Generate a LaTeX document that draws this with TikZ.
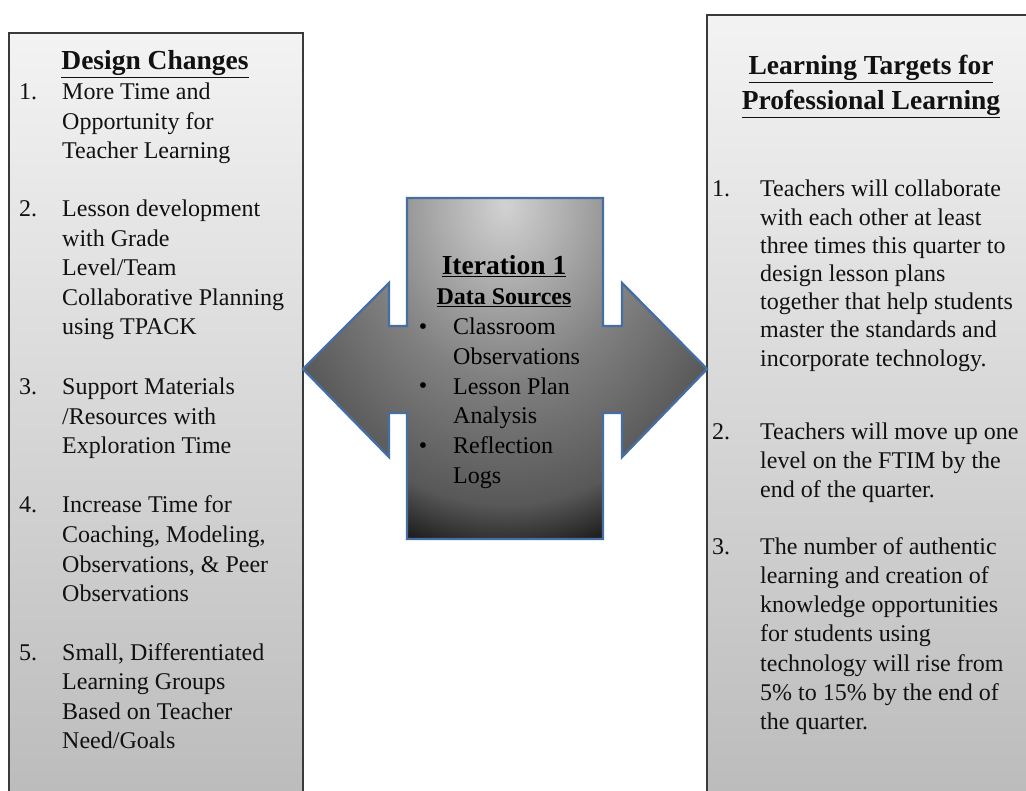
\documentclass[tikz,border=0pt]{standalone}
\usepackage{fontspec}
\setmainfont{Liberation Serif}
\definecolor{boxtop}{HTML}{F3F3F3}
\definecolor{boxbot}{HTML}{BCBCBC}
\definecolor{boxline}{HTML}{3A3A3A}
\definecolor{arrowline}{HTML}{456EA3}
\definecolor{arrowlight}{HTML}{D2D2D2}
\definecolor{arrowmid}{HTML}{808080}
\definecolor{arrowlow}{HTML}{585858}
\definecolor{arrowdark}{HTML}{202020}
\definecolor{textcol}{HTML}{111111}
\pgfdeclareradialshading{arrowshade}{\pgfpoint{0pt}{0pt}}{color(0pt)=(arrowlight); color(175pt)=(arrowmid); color(300pt)=(arrowlow); color(350pt)=(arrowdark); color(420pt)=(arrowdark)}
\begin{document}
\begin{tikzpicture}[x=1pt,y=-1pt,
  body/.style={font=\fontsize{24}{29}\selectfont, inner sep=0pt, anchor=base west, text=textcol},
  num/.style={body},
  cbody/.style={body, text=black},
  head/.style={font=\fontsize{27.5}{33}\selectfont\bfseries, inner sep=0pt, anchor=base, text=textcol},
  subhead/.style={font=\fontsize{24}{29}\selectfont\bfseries, inner sep=0pt, anchor=base, text=black},
  boxedge/.style={draw=boxline, line width=1.2pt},
  boxfill/.style={top color=boxtop, bottom color=boxbot},
  arrowshape/.style={draw=arrowline, line width=2.4pt, line join=miter,
    path picture={\node[inner sep=0pt, xscale=0.8, transform shape] (shadeimg) at ([yshift=-7pt]path picture bounding box.north) {\pgfuseshading{arrowshade}};}}]
\useasboundingbox (0,0) rectangle (1026,791);

% left box
\fill[boxfill] (9,33) rectangle (303,791);
\draw[boxedge] (9,791) -- (9,33) -- (303,33) -- (303,791);
% right box
\fill[boxfill] (707,15) rectangle (1026,791);
\draw[boxedge] (707,791) -- (707,15) -- (1026,15);

% central double arrow
\path[arrowshape] (407,198) -- (603,198) -- (603,326) -- (622,326) -- (622,283) -- (707,369)
  -- (622,457) -- (622,413) -- (603,413) -- (603,539) -- (407,539) -- (407,413)
  -- (389,413) -- (389,457) -- (303,369) -- (389,283) -- (389,326) -- (407,326) -- cycle;

% left box text
\node[head] (dchead) at (155,70) {\underline{Design Changes}};
\node[num] (dn1) at (19,100) {1.};
\foreach \t [count=\i from 0] in {More Time and, Opportunity for, Teacher Learning}
  \node[body] (dca-\i) at (62,{100+29.5*\i}) {\t};
\node[num] (dn2) at (19,217) {2.};
\foreach \t [count=\i from 0] in {Lesson development, with Grade, Level/Team, Collaborative Planning, using TPACK}
  \node[body] (dcb-\i) at (62,{217+29.5*\i}) {\t};
\node[num] (dn3) at (19,395) {3.};
\foreach \t [count=\i from 0] in {Support Materials, /Resources with, Exploration Time}
  \node[body] (dcc-\i) at (62,{395+29.5*\i}) {\t};
\node[num] (dn4) at (19,513) {4.};
\foreach \t [count=\i from 0] in {Increase Time for, {Coaching, Modeling,}, {Observations, \& Peer}, Observations}
  \node[body] (dcd-\i) at (62,{513+29.5*\i}) {\t};
\node[num] (dn5) at (19,660) {5.};
\foreach \t [count=\i from 0] in {{Small, Differentiated}, Learning Groups, Based on Teacher, Need/Goals}
  \node[body] (dce-\i) at (62,{660+29.5*\i}) {\t};

% centre text
\node[head, text=black] (ithead) at (504,275) {\underline{Iteration 1}};
\node[subhead] (dshead) at (504,305) {\underline{Data Sources}};
\node[cbody, anchor=base] (b1) at (423,335) {\textbullet};
\node[cbody, anchor=base] (b2) at (423,394) {\textbullet};
\node[cbody, anchor=base] (b3) at (423,454) {\textbullet};
\foreach \t [count=\i from 0] in {Classroom, Observations, Lesson Plan, Analysis, Reflection, Logs}
  \node[cbody] (ds-\i) at (453,{335+29.6*\i}) {\t};

% right box text
\node[head] (lthead1) at (871,75) {\underline{Learning Targets for}};
\node[head] (lthead2) at (871,110) {\underline{Professional Learning}};
\node[num] (rn1) at (712,197) {1.};
\foreach \t [count=\i from 0] in {Teachers will collaborate, with each other at least, three times this quarter to, design lesson plans, together that help students, master the standards and, incorporate technology.}
  \node[body] (lta-\i) at (760,{197+28.2*\i}) {\t};
\node[num] (rn2) at (712,440) {2.};
\foreach \t [count=\i from 0] in {Teachers will move up one, level on the FTIM by the, end of the quarter.}
  \node[body] (ltb-\i) at (760,{440+28.6*\i}) {\t};
\node[num] (rn3) at (712,554) {3.};
\foreach \t [count=\i from 0] in {The number of authentic, learning and creation of, knowledge opportunities, for students using, technology will rise from, 5\% to 15\% by the end of, the quarter.}
  \node[body] (ltc-\i) at (760,{554+29.3*\i}) {\t};
\end{tikzpicture}
\end{document}
